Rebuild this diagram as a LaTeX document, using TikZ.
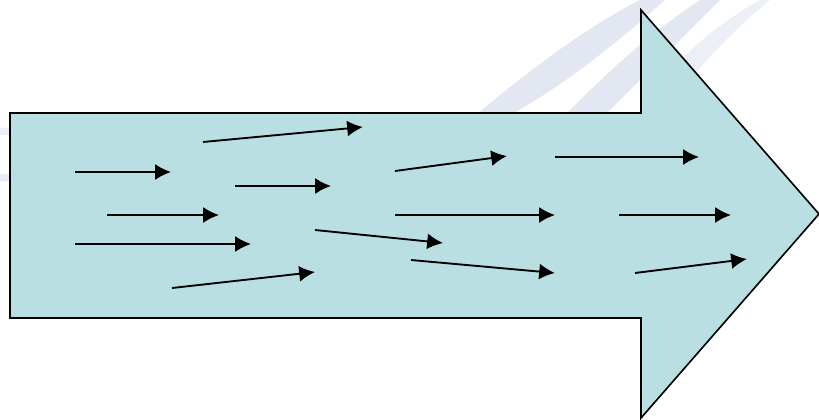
\documentclass[tikz,border=0pt]{standalone}
\usepackage{tikz}
\usetikzlibrary{arrows.meta,backgrounds,calc}
\definecolor{flowfill}{RGB}{185,223,227}
\definecolor{brushblue}{RGB}{150,170,205}
\tikzset{
  flow/.style={draw=black,line width=1.4pt,fill=flowfill,line join=miter},
  drift/.style={line width=1.6pt,-{Latex[length=13.5pt,width=13.6pt]}},
  brush/.style={draw=none,fill=brushblue,opacity=0.28}
}

\begin{document}
\begin{tikzpicture}[x=0.03cm,y=-0.03cm]
\useasboundingbox (0,0) rectangle (819,419);
% faint brush strokes behind the arrow
\fill[brush] (470,120) .. controls (540,60) and (600,20) .. (640,0) -- (665,0) .. controls (620,40) and (560,90) .. (500,120) -- cycle;
\fill[brush] (560,120) .. controls (600,80) and (640,40) .. (700,0) -- (720,0) .. controls (680,40) and (630,90) .. (600,120) -- cycle;
\fill[brush,opacity=0.18] (640,120) .. controls (660,80) and (690,40) .. (760,0) -- (770,0) .. controls (710,50) and (680,90) .. (665,120) -- cycle;
\fill[brush,opacity=0.18] (0,128) .. controls (10,126) and (20,130) .. (30,136) -- (30,140) .. controls (18,136) and (8,134) .. (0,135) -- cycle;
\fill[brush,opacity=0.22] (0,174) .. controls (10,172) and (20,176) .. (30,182) -- (30,186) .. controls (18,182) and (8,180) .. (0,182) -- cycle;

% the big arrow
\draw[flow] (10,113) -- (641,113) -- (641,10) -- (819,214) -- (641,418) -- (641,318) -- (10,318) -- cycle;

% small arrows
\foreach \n/\a/\b in {1/{75,172}/{171,172}, 2/{203,142}/{363,127}, 3/{235,186}/{331,186},
    4/{107,215}/{219,215}, 5/{75,244}/{251,244}, 6/{172,288}/{315,272},
    7/{315,230}/{443,243}, 8/{395,171}/{507,156}, 9/{395,215}/{555,215},
    10/{411,260}/{555,273}, 11/{555,157}/{699,157}, 12/{619,215}/{731,215},
    13/{635,273}/{747,259}}
{
  \coordinate (s\n) at (\a);
  \coordinate (e\n) at (\b);
  \draw[drift] (s\n) -- (e\n);
}
\end{tikzpicture}
\end{document}
